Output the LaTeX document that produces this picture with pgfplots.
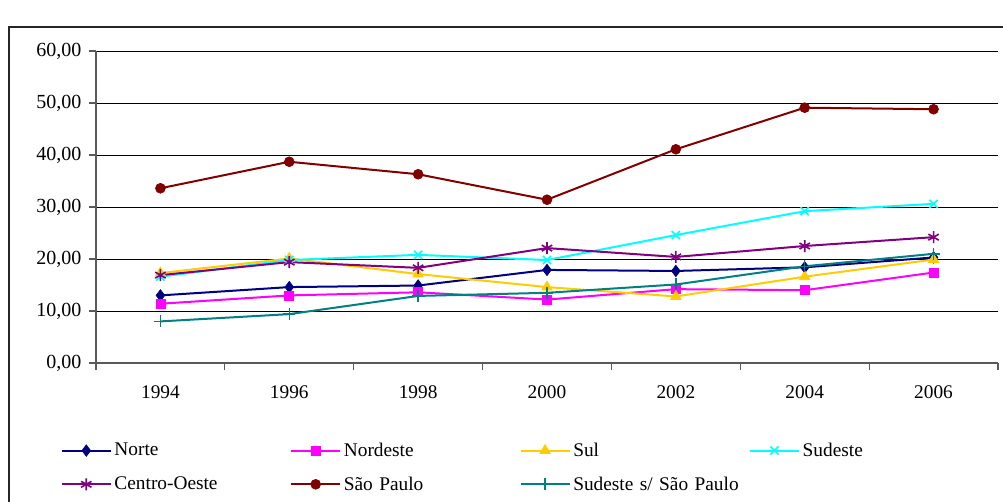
\documentclass[border=0pt]{standalone}
\usepackage{pgfplots}
\pgfplotsset{compat=1.18}
\usepackage{fontspec}
\setmainfont{Liberation Serif}
\definecolor{cNorte}{RGB}{0,0,128}
\definecolor{cNordeste}{RGB}{255,0,255}
\definecolor{cSul}{RGB}{255,204,0}
\definecolor{cSudeste}{RGB}{0,255,255}
\definecolor{cCO}{RGB}{128,0,128}
\definecolor{cSP}{RGB}{128,0,0}
\definecolor{cSSP}{RGB}{0,128,128}
\begin{document}
\begin{tikzpicture}
\useasboundingbox (-72pt,-103.5pt) rectangle (680.25pt,272.25pt);
\draw[line width=1.5pt, black!85] (-65.25pt,-120pt) -- (-65.25pt,252pt) -- (700pt,252pt);
\begin{axis}[
  scale only axis,
  width=676.5pt, height=234pt,
  xmin=-0.5, xmax=6.5, ymin=0, ymax=60,
  xtick={0,1,2,3,4,5,6},
  xticklabels={1994,1996,1998,2000,2002,2004,2006},
  minor xtick={-0.5,0.5,1.5,2.5,3.5,4.5,5.5,6.5},
  ytick={0,10,20,30,40,50,60},
  tick align=outside,
  x tick style={draw=none},
  minor x tick style={draw=gray!70!black, line width=0.8pt},
  minor tick length=5pt,
  y tick style={draw=gray!70!black, line width=0.8pt},
  major tick length=5.5pt,
  axis x line*=bottom,
  axis y line*=left,
  axis line style={gray!70!black, line width=1pt, -},
  ymajorgrids,
  grid style={black, line width=0.7pt},
  font=\fontsize{14.5}{17}\selectfont,
  /pgf/number format/assume math mode=true,
  yticklabel style={xshift=-2pt, font=\fontsize{15}{17}\selectfont, /pgf/number format/.cd, fixed, fixed zerofill, precision=2, use comma},
  scaled y ticks=false,
  xticklabel style={yshift=-8pt},
  legend columns=4,
  legend cell align=left,
  legend style={at={(axis description cs:-0.0438,-0.238)}, anchor=north west, draw=none, fill=none,
    font=\fontsize{14.5}{17}\selectfont, row sep=9.75pt,
    /tikz/every even column/.append style={text width=129.75pt}},
  legend image code/.code={\draw[mark repeat=2,mark phase=2,#1] plot coordinates {(0pt,0pt)(18.4pt,0pt)(36.8pt,0pt)};},
  every axis plot/.append style={line width=1.5pt},
]
\addplot[color=cNorte, mark=diamond*, mark size=4.3pt, mark options={solid, line width=0.5pt}] coordinates {(0,13.0)(1,14.6)(2,14.9)(3,17.9)(4,17.7)(5,18.4)(6,20.3)};
\addlegendentry{Norte}
\addplot[color=cNordeste, mark=square*, mark size=3.4pt, mark options={solid, line width=0.5pt}] coordinates {(0,11.4)(1,13.0)(2,13.6)(3,12.2)(4,14.2)(5,14.0)(6,17.4)};
\addlegendentry{Nordeste}
\addplot[color=cSul, mark=triangle*, mark size=4.5pt, mark options={solid, line width=0.5pt}] coordinates {(0,17.3)(1,20.1)(2,17.1)(3,14.6)(4,12.8)(5,16.6)(6,19.9)};
\addlegendentry{Sul}
\addplot[color=cSudeste, mark=x, mark size=4.3pt, mark options={solid, line width=1.2pt}] coordinates {(0,16.6)(1,19.8)(2,20.8)(3,19.8)(4,24.6)(5,29.2)(6,30.6)};
\addlegendentry{Sudeste}
\addplot[color=cCO, mark=asterisk, mark size=4.5pt, mark options={solid, line width=1.2pt}] coordinates {(0,16.9)(1,19.4)(2,18.3)(3,22.1)(4,20.4)(5,22.5)(6,24.2)};
\addlegendentry{Centro-Oeste}
\addplot[color=cSP, mark=*, mark size=3.7pt, mark options={solid, line width=0.5pt}] coordinates {(0,33.6)(1,38.7)(2,36.3)(3,31.4)(4,41.1)(5,49.1)(6,48.8)};
\addlegendentry{São Paulo}
\addplot[color=cSSP, mark=+, mark size=4.5pt, mark options={solid, line width=1.1pt}] coordinates {(0,8.0)(1,9.4)(2,12.9)(3,13.5)(4,15.1)(5,18.6)(6,21.0)};
\addlegendentry{Sudeste s/ São Paulo}
\end{axis}
\end{tikzpicture}
\end{document}
